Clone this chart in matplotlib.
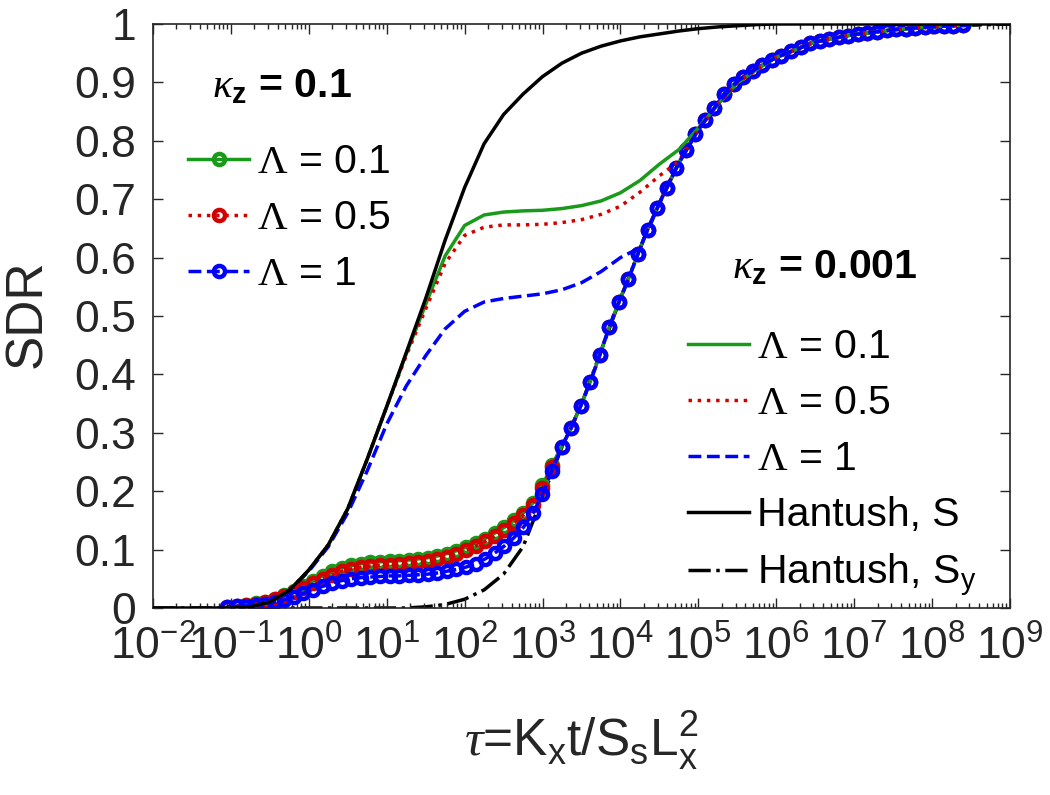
import numpy as np
import matplotlib
matplotlib.use("Agg")
import matplotlib.pyplot as plt
from matplotlib.ticker import LogLocator, NullFormatter

plt.rcParams['font.family'] = ['Liberation Sans', 'DejaVu Sans']
plt.rcParams['mathtext.fontset'] = 'custom'
plt.rcParams['mathtext.rm'] = 'Liberation Serif'
plt.rcParams['mathtext.it'] = 'Liberation Serif:italic'
plt.rcParams['mathtext.bf'] = 'Liberation Sans:bold'
plt.rcParams['mathtext.sf'] = 'Liberation Sans'
plt.rcParams['mathtext.default'] = 'regular'

# time grids (log spaced, as in the solver output)
tau_k01 = np.logspace(-1.05, 8.397, 78)   # kappa_z = 0.1 curves (with markers)
tau_k0001 = np.logspace(-1, 8.5, 39)      # kappa_z = 0.001 curves
tau_hant = np.logspace(-2, 9, 45)         # Hantush reference solutions

# kappa_z = 0.1 : early part differs by Lambda, late part identical
sdr_k01_L01_head = [0.002, 0.003, 0.005, 0.008, 0.011, 0.016, 0.022, 0.029, 0.037, 0.046,
                    0.055, 0.063, 0.069, 0.073, 0.076, 0.078, 0.079, 0.080, 0.081, 0.082,
                    0.084, 0.086, 0.089, 0.093, 0.098, 0.104, 0.111, 0.119, 0.128, 0.138,
                    0.150, 0.163, 0.180, 0.210, 0.245]
sdr_k01_L05_head = [0.002, 0.003, 0.005, 0.007, 0.010, 0.015, 0.020, 0.027, 0.034, 0.042,
                    0.050, 0.057, 0.063, 0.067, 0.070, 0.072, 0.073, 0.074, 0.075, 0.077,
                    0.079, 0.081, 0.084, 0.088, 0.093, 0.099, 0.106, 0.114, 0.123, 0.133,
                    0.145, 0.159, 0.176, 0.205, 0.242]
sdr_k01_L1_head = [0.002, 0.003, 0.004, 0.005, 0.007, 0.010, 0.014, 0.019, 0.025, 0.031,
                   0.037, 0.043, 0.047, 0.050, 0.052, 0.053, 0.054, 0.055, 0.055, 0.056,
                   0.057, 0.058, 0.060, 0.063, 0.066, 0.070, 0.076, 0.084, 0.094, 0.106,
                   0.120, 0.138, 0.162, 0.195, 0.235]
sdr_k01_tail = [0.276, 0.308, 0.346, 0.387, 0.433, 0.482, 0.524, 0.563, 0.607, 0.648,
                0.685, 0.720, 0.754, 0.785, 0.812, 0.836, 0.856, 0.880, 0.897, 0.909,
                0.920, 0.930, 0.939, 0.946, 0.953, 0.960, 0.967, 0.971, 0.975, 0.977,
                0.980, 0.983, 0.985, 0.987, 0.989, 0.991, 0.992, 0.993, 0.995, 0.996,
                0.997, 0.997, 0.998]

# kappa_z = 0.001
sdr_k0001_L01 = [0.0, 0.002, 0.010, 0.030, 0.065, 0.108, 0.170, 0.255, 0.345, 0.435,
                 0.520, 0.603, 0.655, 0.673, 0.678, 0.680, 0.681, 0.684, 0.689, 0.697,
                 0.711, 0.732, 0.760, 0.785, 0.822, 0.862, 0.899, 0.922, 0.943, 0.956,
                 0.969, 0.976, 0.982, 0.986, 0.990, 0.993, 0.995, 0.997, 0.998]
sdr_k0001_L05 = [0.0, 0.002, 0.010, 0.030, 0.065, 0.108, 0.170, 0.255, 0.345, 0.432,
                 0.512, 0.590, 0.638, 0.652, 0.656, 0.656, 0.657, 0.660, 0.665, 0.674,
                 0.688, 0.712, 0.740, 0.765, 0.820, 0.862, 0.899, 0.922, 0.943, 0.956,
                 0.969, 0.976, 0.982, 0.986, 0.990, 0.993, 0.995, 0.997, 0.998]
sdr_k0001_L1 = [0.0, 0.002, 0.010, 0.030, 0.063, 0.105, 0.163, 0.235, 0.315, 0.380,
                0.432, 0.478, 0.508, 0.524, 0.530, 0.534, 0.538, 0.545, 0.557, 0.576,
                0.600, 0.617, 0.693, 0.762, 0.819, 0.864, 0.902, 0.924, 0.943, 0.956,
                0.969, 0.976, 0.982, 0.986, 0.990, 0.993, 0.995, 0.997, 0.998]

# Hantush solutions
sdr_hant_S = [0.0, 0.0, 0.0, 0.0, 0.0, 0.002, 0.010, 0.030, 0.065, 0.108,
              0.170, 0.255, 0.345, 0.437, 0.530, 0.630, 0.720, 0.795, 0.845, 0.880,
              0.910, 0.933, 0.950, 0.962, 0.971, 0.978, 0.983, 0.988, 0.992, 0.995,
              0.997, 0.999, 1.0, 1.0, 1.0, 1.0, 1.0, 1.0, 1.0, 1.0,
              1.0, 1.0, 1.0, 1.0, 1.0]
sdr_hant_Sy = [0.0, 0.0, 0.0, 0.0, 0.0, 0.0, 0.0, 0.0, 0.0, 0.0,
               0.0, 0.0, 0.0, 0.0, 0.002, 0.006, 0.015, 0.031, 0.058, 0.105,
               0.190, 0.276, 0.349, 0.440, 0.530, 0.615, 0.693, 0.762, 0.819, 0.864,
               0.902, 0.924, 0.943, 0.956, 0.969, 0.976, 0.982, 0.986, 0.990, 0.993,
               0.995, 0.997, 0.998, 0.999, 1.0]

lam_labels = [r'$\mathrm{\Lambda}$ = 0.1', r'$\mathrm{\Lambda}$ = 0.5', r'$\mathrm{\Lambda}$ = 1']
y_ticks = [0, 0.1, 0.2, 0.3, 0.4, 0.5, 0.6, 0.7, 0.8, 0.9, 1]
y_ticklabels = ['0', '0.1', '0.2', '0.3', '0.4', '0.5', '0.6', '0.7', '0.8', '0.9', '1']

green = '#1a9a1a'
red = '#d40000'
blue = '#0000ff'
W, H = 1050, 795

fig = plt.figure(figsize=(10.5, 7.95), dpi=100)
ax = fig.add_axes([153 / W, 187 / H, 857 / W, 584 / H])

ax.plot(tau_hant, sdr_hant_Sy, '-.', color='k', lw=2.5, zorder=1)

mk = dict(marker='o', markersize=8, markeredgewidth=3.2, markerfacecolor='none', lw=2.5)
g1, = ax.plot(tau_k01, sdr_k01_L01_head + sdr_k01_tail, '-', color=green, zorder=2, **mk)
r1, = ax.plot(tau_k01, sdr_k01_L05_head + sdr_k01_tail, ':', color=red, zorder=2, **mk)
b1, = ax.plot(tau_k01, sdr_k01_L1_head + sdr_k01_tail, '--', color=blue, zorder=2, **mk)

g2, = ax.plot(tau_k0001, sdr_k0001_L01, '-', color=green, lw=2.5, zorder=3)
r2, = ax.plot(tau_k0001, sdr_k0001_L05, ':', color=red, lw=2.5, zorder=3)
b2, = ax.plot(tau_k0001, sdr_k0001_L1, '--', color=blue, lw=2.5, zorder=3)

hS, = ax.plot(tau_hant, sdr_hant_S, '-', color='k', lw=2.5, zorder=4)
hSy, = ax.plot([], [], '-.', color='k', lw=2.5)

ax.set_xscale('log')
ax.set_xlim(1e-2, 1e9)
ax.set_ylim(0, 1)
ax.xaxis.set_major_locator(LogLocator(base=10, numticks=30))
ax.xaxis.set_minor_locator(LogLocator(base=10, subs=np.arange(2, 10), numticks=30))
ax.xaxis.set_minor_formatter(NullFormatter())
ax.set_yticks(y_ticks)
ax.set_yticklabels(y_ticklabels)

for s in ax.spines.values():
    s.set_color('#262626')
    s.set_linewidth(1.2)
ax.tick_params(which='both', direction='in', top=True, right=True, colors='#262626',
               labelsize=32, width=1.0)
ax.tick_params(which='major', length=7)
ax.tick_params(which='minor', length=3.5)
ax.tick_params(axis='y', which='major', pad=12)
ax.tick_params(axis='x', which='major', pad=12.5)

ax.set_xlabel(r'$\mathit{\tau}$=K$_{x}$t/S$_{s}$L$_{x}^{2}$', fontsize=37, color='#262626')
ax.xaxis.set_label_coords(0.5, (608 - 708) / 584)
ax.set_ylabel('SDR', fontsize=37, color='#262626')
ax.yaxis.set_label_coords((52 - 153) / 857, (608 - 314) / 584)

leg_kw = dict(frameon=False, loc='upper left', fontsize=29.5, handlelength=1.5,
              handletextpad=0.18, labelspacing=0.44, borderpad=0, borderaxespad=0,
              numpoints=1, bbox_transform=fig.transFigure)
leg1 = ax.legend([g1, r1, b1], lam_labels, bbox_to_anchor=(188 / W, 1 - 143 / H), **leg_kw)
ax.add_artist(leg1)
ax.legend([g2, r2, b2, hS, hSy], lam_labels + ['Hantush, S', 'Hantush, S$_{y}$'],
          bbox_to_anchor=(688 / W, 1 - 328 / H), **leg_kw)

# legend titles
fig.text(212 / W, 1 - 97 / H, r'$\mathit{\kappa}_{\mathbf{z}}$ = 0.1', fontsize=29.5,
         fontweight='bold', ha='left', va='baseline')
fig.text(732 / W, 1 - 278 / H, r'$\mathit{\kappa}_{\mathbf{z}}$ = 0.001', fontsize=29.5,
         fontweight='bold', ha='left', va='baseline')

fig.savefig('out.png', dpi=100)
